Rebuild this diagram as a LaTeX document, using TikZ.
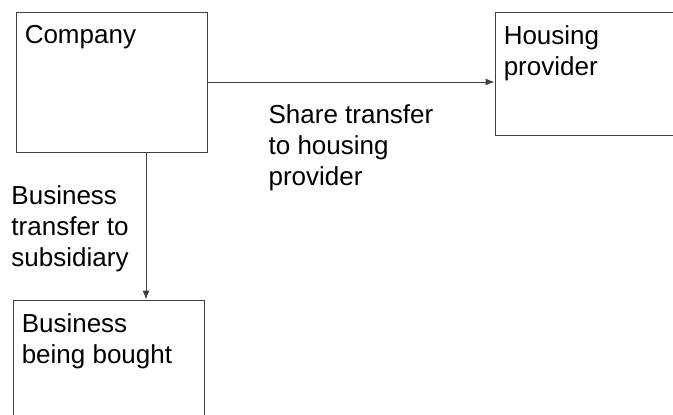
\documentclass[tikz,border=0pt]{standalone}
\usepackage{fontspec}
\setmainfont{Liberation Sans}
\usetikzlibrary{positioning}
\usetikzlibrary{arrows.meta}

\begin{document}
\begin{tikzpicture}[x=1pt,y=-1pt,
  box/.style={draw=black!75,line width=0.9pt,rectangle,inner sep=0pt},
  txt/.style={font=\fontsize{26}{31}\selectfont,align=left,inner sep=0pt},
  boxtext/.style={label={[txt,anchor=north west,xshift=9pt,yshift=-14pt]north west:#1}},
  arr/.style={draw=black!75,line width=0.9pt,-{Latex[length=9pt,width=7pt]}}]
\useasboundingbox (0,0) rectangle (673,415);
\clip (0,0) rectangle (673,415);
\node (company) [box,minimum width=191pt,minimum height=140pt,boxtext=Company] at (111.5,82) {};
\node (housing) [box,minimum width=195pt,minimum height=123pt,boxtext={Housing\\provider}] at (592.5,73.5) {};
\node (bought) [box,minimum width=191pt,minimum height=130pt,boxtext={Business\\being bought}] at (108.5,365) {};
\path
  (company.east) edge[arr] node [txt,below=22pt] {Share transfer\\to housing\\provider} (housing.west |- company.east)
  ([xshift=34.5pt]company.south) edge[arr] node [txt,left=17pt,yshift=-3pt] {Business\\transfer to\\subsidiary} ([xshift=34.5pt]company.south |- bought.north);
\end{tikzpicture}
\end{document}
